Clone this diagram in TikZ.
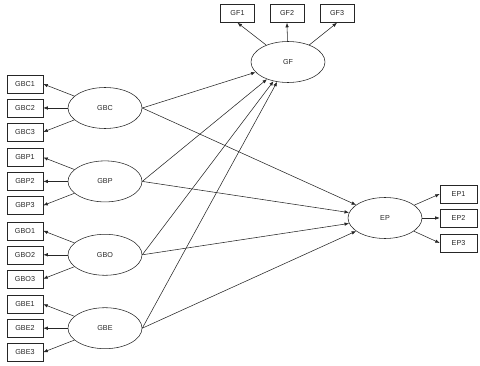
\documentclass[tikz,border=0pt]{standalone}
\usepackage{fontspec}
\setmainfont{Liberation Sans}
\usepackage{tikz}
\usetikzlibrary{shapes.geometric, arrows.meta}

\tikzset{
  latent/.style={draw, ellipse, minimum width=74pt, minimum height=41pt, inner sep=0pt},
  obs/.style={draw, rectangle, minimum width=36pt, minimum height=18pt, inner sep=0pt},
}

\begin{document}
\begin{tikzpicture}[>={Latex[length=4.5pt,width=3.5pt]}, x=1pt, y=-1pt, font=\fontsize{7.2}{8}\selectfont, line width=0.55pt, black!85]
    \useasboundingbox (0,0) rectangle (480,366);
    % Biến tiềm ẩn GF và EP
    \node[latent] (gf) at (288,62) {GF};
    \node[latent] (ep) at (385,218) {EP};
    \foreach \k/\x in {1/237.5, 2/287, 3/337} {
        \node[obs, minimum width=34pt] (gf\k) at (\x,13.5) {GF\k};
        \draw[->] (gf) -- (gf\k.south);
    }
    \foreach \k/\y in {1/194, 2/218, 3/243} {
        \node[obs, minimum width=37pt] (ep\k) at (458.5,\y) {EP\k};
        \draw[->] (ep) -- (ep\k.west);
    }
    % Các biến độc lập và đường dẫn
    \foreach \n/\t [count=\i from 0] in {gbc/GBC, gbp/GBP, gbo/GBO, gbe/GBE} {
        \node[latent] (\n) at (105,{108+73.4*\i}) {\t};
        \foreach \k in {1,2,3} {
            \node[obs] (\n\k) at (25,{108+73.4*\i+24*(\k-2)}) {\t\k};
            \draw[->] (\n) -- (\n\k.east);
        }
        \draw[->] (\n.east) -- (gf);
        \draw[->] (\n.east) -- (ep);
    }
\end{tikzpicture}
\end{document}
